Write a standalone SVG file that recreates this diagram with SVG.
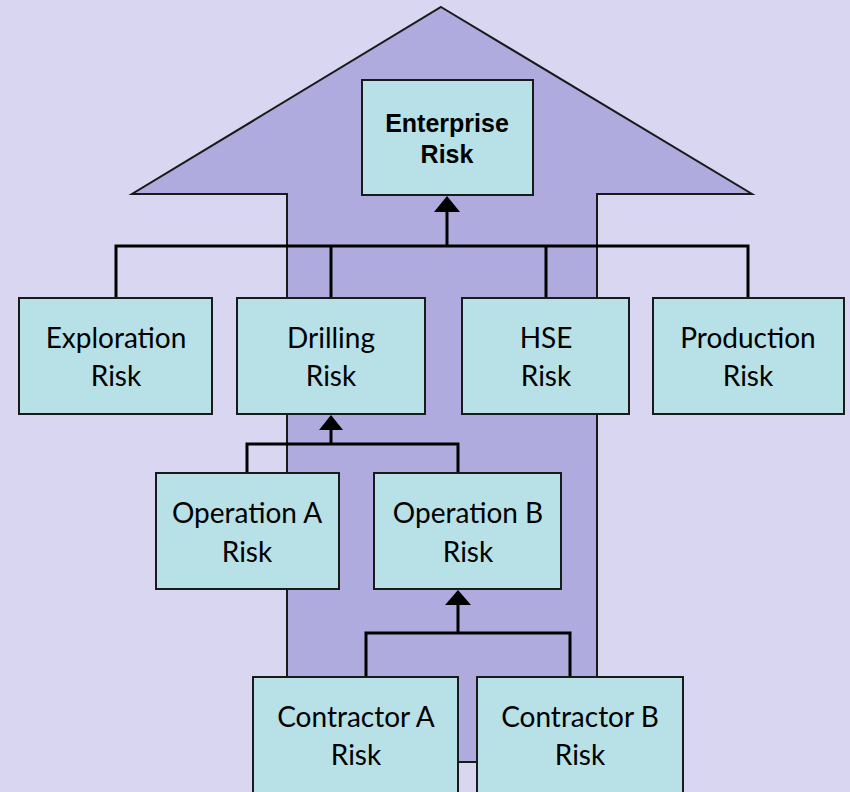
<svg xmlns="http://www.w3.org/2000/svg" width="850" height="792" viewBox="0 0 850 792">
<defs>
<style>
.box{fill:#B7E1E7;stroke:#1a1a1a;stroke-width:2}
.t{font-family:Lato,"Open Sans","Liberation Sans",sans-serif;font-size:28px;fill:#000;text-anchor:middle}
.tb{font-family:"Liberation Sans",Arial,sans-serif;font-size:25px;font-weight:bold;fill:#000;text-anchor:middle}
.ln{fill:none;stroke:#000;stroke-width:3}
</style>
<marker id="ah" viewBox="0 0 26 16" refX="13" refY="0" markerWidth="26" markerHeight="16" markerUnits="userSpaceOnUse" orient="auto-start-reverse">
<path d="M0,16 L13,0 L26,16 Z" fill="#000"/>
</marker>
</defs>
<rect x="0" y="0" width="850" height="792" fill="#D9D6F2"/>
<polygon id="bigArrow" points="441,7 752,194 597,194 597,762 287,762 287,194 132,194" fill="#B0ABDF" stroke="#1a1a1a" stroke-width="2"/>
<g id="connectors">
<polyline class="ln" points="116,297 116,246 748,246 748,297"/>
<line class="ln" x1="331" y1="246" x2="331" y2="297"/>
<line class="ln" x1="546" y1="246" x2="546" y2="297"/>
<path d="M447,246 L447,212" class="ln"/>
<path d="M434,212 L447,196 L460,212 Z" fill="#000"/>
<polyline class="ln" points="247,473 247,444 458,444 458,473"/>
<path d="M331,444 L331,430" class="ln"/>
<path d="M319,430 L331,415 L343,430 Z" fill="#000"/>
<polyline class="ln" points="366,677 366,633 570,633 570,677"/>
<path d="M458,633 L458,605" class="ln"/>
<path d="M445,605 L458,590 L471,605 Z" fill="#000"/>
</g>
<g id="enterprise">
<rect class="box" x="362" y="80" width="171" height="115"/>
<text class="tb" x="447" y="132">Enterprise</text>
<text class="tb" x="447" y="163">Risk</text>
</g>
<g id="exploration">
<rect class="box" x="19" y="298" width="193" height="116"/>
<text class="t" x="116" y="348">Exploration</text>
<text class="t" x="116" y="386">Risk</text>
</g>
<g id="drilling">
<rect class="box" x="237" y="298" width="188" height="116"/>
<text class="t" x="331" y="348">Drilling</text>
<text class="t" x="331" y="386">Risk</text>
</g>
<g id="hse">
<rect class="box" x="462" y="298" width="167" height="116"/>
<text class="t" x="546" y="348">HSE</text>
<text class="t" x="546" y="386">Risk</text>
</g>
<g id="production">
<rect class="box" x="653" y="298" width="191" height="116"/>
<text class="t" x="748" y="348">Production</text>
<text class="t" x="748" y="386">Risk</text>
</g>
<g id="operationA">
<rect class="box" x="156" y="473" width="183" height="116"/>
<text class="t" x="247" y="523">Operation A</text>
<text class="t" x="247" y="562">Risk</text>
</g>
<g id="operationB">
<rect class="box" x="374" y="473" width="187" height="116"/>
<text class="t" x="468" y="523">Operation B</text>
<text class="t" x="468" y="562">Risk</text>
</g>
<g id="contractorA">
<rect class="box" x="253" y="677" width="205" height="125"/>
<text class="t" x="356" y="727">Contractor A</text>
<text class="t" x="356" y="765">Risk</text>
</g>
<g id="contractorB">
<rect class="box" x="477" y="677" width="206" height="125"/>
<text class="t" x="580" y="727">Contractor B</text>
<text class="t" x="580" y="765">Risk</text>
</g>
</svg>
